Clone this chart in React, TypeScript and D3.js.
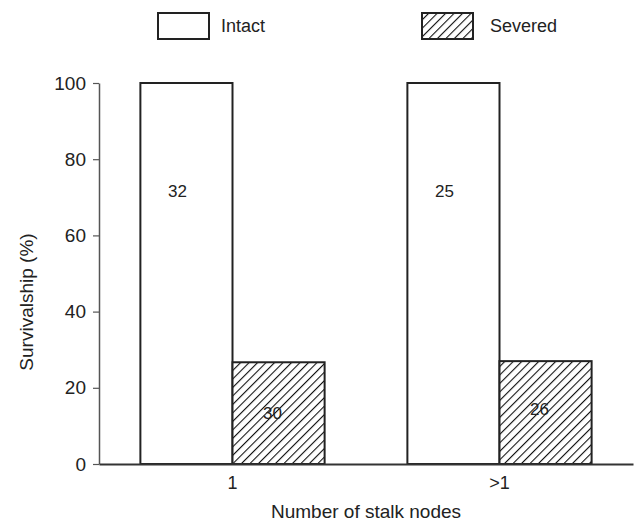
import React, { useRef, useEffect } from "react";
import * as d3 from "d3";

const categories = ["1", ">1"];
const groups = ["Intact", "Severed"];
const intactValues = [100, 100];
const severedValues = [26.7, 27];
const intactCounts = ["32", "25"];
const severedCounts = ["30", "26"];
const yTicks = [0, 20, 40, 60, 80, 100];

export default function App() {
  const svgRef = useRef<SVGSVGElement>(null);

  useEffect(() => {
    const width = 634;
    const height = 524;
    const left = 99;
    const right = 633;
    const top = 83;
    const bottom = 464;

    const svg = d3.select(svgRef.current);
    svg.selectAll("*").remove();
    svg.attr("width", width).attr("height", height);

    // hatch pattern for severed bars
    const defs = svg.append("defs");
    const pat = defs
      .append("pattern")
      .attr("id", "hatch")
      .attr("patternUnits", "userSpaceOnUse")
      .attr("width", 6)
      .attr("height", 6)
      .attr("patternTransform", "rotate(45)");
    pat.append("rect").attr("width", 6).attr("height", 6).attr("fill", "#fff");
    pat
      .append("line")
      .attr("x1", 0)
      .attr("y1", 0)
      .attr("x2", 0)
      .attr("y2", 6)
      .attr("stroke", "#111")
      .attr("stroke-width", 2.2);

    const x = d3
      .scaleBand<string>()
      .domain(categories)
      .range([left, right])
      .paddingInner(0.31)
      .paddingOuter(0.155);
    const xSub = d3.scaleBand<string>().domain(groups).range([0, x.bandwidth()]);
    const y = d3.scaleLinear().domain([0, 100]).range([bottom, top]);

    const font = "'Liberation Sans', Arial, sans-serif";

    // bars
    categories.forEach((c, i) => {
      const x0 = x(c)!;
      svg
        .append("rect")
        .attr("x", x0 + xSub("Intact")!)
        .attr("y", y(intactValues[i]))
        .attr("width", xSub.bandwidth())
        .attr("height", y(0) - y(intactValues[i]))
        .attr("fill", "#fff")
        .attr("stroke", "#222")
        .attr("stroke-width", 2);
      svg
        .append("rect")
        .attr("x", x0 + xSub("Severed")!)
        .attr("y", y(severedValues[i]))
        .attr("width", xSub.bandwidth())
        .attr("height", y(0) - y(severedValues[i]))
        .attr("fill", "url(#hatch)")
        .attr("stroke", "#222")
        .attr("stroke-width", 2);

      svg
        .append("text")
        .attr("x", x0 + xSub("Intact")! + xSub.bandwidth() / 2 - 9)
        .attr("y", 197)
        .attr("text-anchor", "middle")
        .style("font-family", font)
        .style("font-size", "17px")
        .attr("fill", "#222")
        .text(intactCounts[i]);
      svg
        .append("text")
        .attr("x", x0 + xSub("Severed")! + xSub.bandwidth() / 2 - 6)
        .attr("y", 419 - i * 4)
        .attr("text-anchor", "middle")
        .style("font-family", font)
        .style("font-size", "17px")
        .attr("fill", "#222")
        .text(severedCounts[i]);
    });

    // y axis
    const yAxis = svg
      .append("g")
      .attr("transform", `translate(${left},0)`)
      .call(d3.axisLeft(y).tickValues(yTicks).tickSize(6).tickSizeOuter(0).tickPadding(7));
    yAxis.select(".domain").attr("stroke", "#555").attr("stroke-width", 1.5);
    yAxis.selectAll(".tick line").attr("stroke", "#555").attr("stroke-width", 1.2);
    yAxis
      .selectAll(".tick text")
      .style("font-family", font)
      .style("font-size", "19px")
      .attr("fill", "#222");

    // x axis
    const xAxis = svg
      .append("g")
      .attr("transform", `translate(0,${bottom})`)
      .call(d3.axisBottom(x).tickSize(0).tickPadding(12));
    xAxis.select(".domain").attr("stroke", "#333").attr("stroke-width", 2);
    xAxis
      .selectAll(".tick text")
      .style("font-family", font)
      .style("font-size", "18px")
      .attr("fill", "#222");

    // axis titles
    svg
      .append("text")
      .attr("x", 366)
      .attr("y", 518)
      .attr("text-anchor", "middle")
      .style("font-family", font)
      .style("font-size", "19px")
      .attr("fill", "#222")
      .text("Number of stalk nodes");
    svg
      .append("text")
      .attr("transform", `translate(33,302) rotate(-90)`)
      .attr("text-anchor", "middle")
      .style("font-family", font)
      .style("font-size", "19px")
      .attr("fill", "#222")
      .text("Survivalship (%)");

    // legend
    const legend = [
      { label: "Intact", fill: "#fff", bx: 158, tx: 221 },
      { label: "Severed", fill: "url(#hatch)", bx: 422, tx: 490 },
    ];
    legend.forEach((l) => {
      svg
        .append("rect")
        .attr("x", l.bx)
        .attr("y", 13)
        .attr("width", 51)
        .attr("height", 26)
        .attr("fill", l.fill)
        .attr("stroke", "#222")
        .attr("stroke-width", 2);
      svg
        .append("text")
        .attr("x", l.tx)
        .attr("y", 32)
        .style("font-family", font)
        .style("font-size", "18px")
        .attr("fill", "#222")
        .text(l.label);
    });
  }, []);

  return <svg ref={svgRef} style={{ position: "absolute", left: 0, top: 0 }}></svg>;
}
